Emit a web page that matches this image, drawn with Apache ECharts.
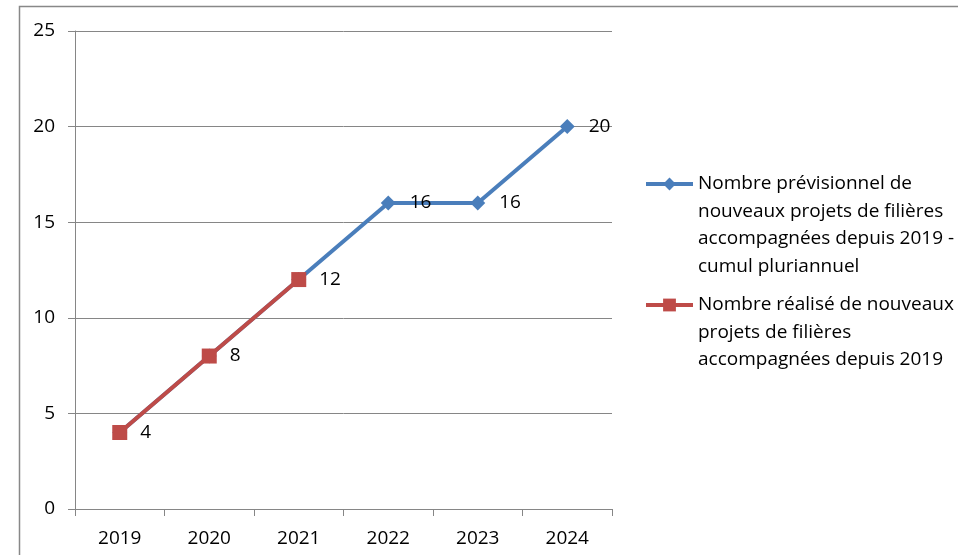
<!DOCTYPE html>
<html><head><meta charset="utf-8">
<script src="https://cdn.jsdelivr.net/npm/echarts@6/dist/echarts.min.js"></script>
<style>html,body{margin:0;padding:0;background:#fff}#c{width:958px;height:555px}</style>
</head><body><div id="c"></div>
<script>
const years = ['2019','2020','2021','2022','2023','2024'];
const previsionnel = [4, 8, 12, 16, 16, 20];
const realise = [4, 8, 12, null, null, null];
const yTicks = [0, 5, 10, 15, 20, 25];
const nameBlue = 'Nombre prévisionnel de\nnouveaux projets de filières\naccompagnées depuis 2019 -\ncumul pluriannuel';
const nameRed = 'Nombre réalisé de nouveaux\nprojets de filières\naccompagnées depuis 2019';

const FONT = 'Open Sans';
const FS = 19;
const LH = 27.5;
const BLUE = '#4A7EBB', RED = '#BE4B48';
function legendFor(name, iconCenterY){
  const lines = name.split('\n').length;
  const total = (2 * lines - 1) * LH;   // leading blank lines keep the first line on the icon
  return {orient:'vertical', left:644, top: iconCenterY - total / 2, padding:0,
    itemWidth:47, itemHeight:16, lineStyle:{width:4},
    formatter: n => '\n'.repeat(lines - 1) + n,
    textStyle:{fontFamily:FONT, fontSize:FS, color:'#000', lineHeight:LH},
    data:[name]};
}
const chart = echarts.init(document.getElementById('c'), null, {renderer:'canvas'});
chart.setOption({
  animation:false,
  backgroundColor:'#fff',
  graphic:[{type:'rect', shape:{x:19.5,y:6.5,width:1000,height:600}, style:{fill:'none',stroke:'#888',lineWidth:1.5}, silent:true}],
  grid:{left:75, top:31, right:346, bottom:46, containLabel:false},
  xAxis:{type:'category', data:years, boundaryGap:true,
    axisLine:{lineStyle:{color:'#868686',width:1}},
    axisTick:{show:true, length:7, lineStyle:{color:'#868686'}},
    axisLabel:{color:'#000', fontFamily:FONT, fontSize:FS, margin:20}},
  yAxis:{type:'value', min:yTicks[0], max:yTicks[yTicks.length-1], interval:5,
    axisLine:{show:true, lineStyle:{color:'#868686'}},
    axisTick:{show:true, length:7, lineStyle:{color:'#868686'}},
    splitLine:{lineStyle:{color:'#868686',width:1}},
    axisLabel:{color:'#000', fontFamily:FONT, fontSize:FS, margin:20}},
  legend:[legendFor(nameBlue, 184), legendFor(nameRed, 305)],
  series:[
    {name:nameBlue, type:'line', color:BLUE, symbol:'diamond', symbolSize:15,
     lineStyle:{width:4, color:BLUE}, itemStyle:{color:BLUE},
     data: previsionnel.map((v,i)=>({value:v, label:{show:i>=3}})),
     label:{position:'right', distance:14, fontFamily:FONT, fontSize:FS, color:'#000'}},
    {name:nameRed, type:'line', color:RED, symbol:'rect', symbolSize:15,
     lineStyle:{width:4, color:RED}, itemStyle:{color:RED},
     data: realise,
     label:{show:true, position:'right', distance:13, fontFamily:FONT, fontSize:FS, color:'#000'}}
  ]
});
</script></body></html>
